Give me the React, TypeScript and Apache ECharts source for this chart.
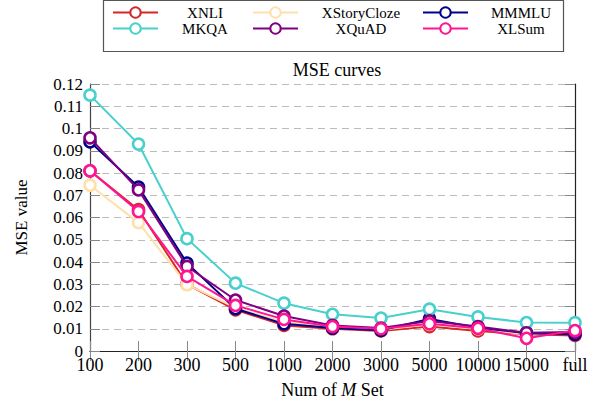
import React, { useEffect, useRef } from "react";
import * as echarts from "echarts";

const categories = ["100", "200", "300", "500", "1000", "2000", "3000", "5000", "10000", "15000", "full"];

const xnli = [0.081, 0.0635, 0.030, 0.0185, 0.0115, 0.010, 0.009, 0.011, 0.009, 0.0075, 0.007];
const xstorycloze = [0.0745, 0.0577, 0.0298, 0.0195, 0.013, 0.011, 0.0095, 0.012, 0.010, 0.0075, 0.0085];
const mmmlu = [0.094, 0.0737, 0.0395, 0.019, 0.0122, 0.0103, 0.0093, 0.0144, 0.0105, 0.008, 0.0075];
const mkqa = [0.115, 0.093, 0.0505, 0.0305, 0.0215, 0.0165, 0.0148, 0.0188, 0.0153, 0.0128, 0.0127];
const xquad = [0.0958, 0.0724, 0.038, 0.0229, 0.0157, 0.0115, 0.0103, 0.0135, 0.011, 0.0082, 0.0085];
const xlsum = [0.081, 0.0627, 0.0335, 0.0205, 0.0142, 0.011, 0.010, 0.0122, 0.0102, 0.0057, 0.0092];

const seriesNames = ["XNLI", "XStoryCloze", "MMMLU", "MKQA", "XQuAD", "XLSum"];
const seriesData = [xnli, xstorycloze, mmmlu, mkqa, xquad, xlsum];
const seriesColors = ["#d62728", "#ffe0aa", "#00008b", "#48d1cc", "#800080", "#ff1493"];

const legendColumns = [
  ["XNLI", "MKQA"],
  ["XStoryCloze", "XQuAD"],
  ["MMMLU", "XLSum"],
];

const FONT = "'Liberation Serif', 'Times New Roman', serif";

export default function App() {
  const ref = useRef<HTMLDivElement>(null);
  useEffect(() => {
    if (!ref.current) return;
    const chart = echarts.init(ref.current, null, { renderer: "svg" });
    const colLeft = [112, 252, 422];
    const colTextW = [84, 116, 96];
    const legends = legendColumns.map((names, i) => ({
      data: names,
      orient: "vertical",
      left: colLeft[i],
      top: 5,
      padding: 0,
      itemWidth: 45,
      itemHeight: 13,
      itemGap: 1,
      selectedMode: false,
      formatter: "{a|{name}}",
      textStyle: {
        fontFamily: FONT,
        fontSize: 15,
        color: "#000",
        rich: {
          a: { width: colTextW[i], align: "center", fontFamily: FONT, fontSize: 15, lineHeight: 20, color: "#000" },
        },
      },
    }));
    const option: any = {
      animation: false,
      backgroundColor: "#fff",
      title: {
        text: "MSE curves",
        left: 332,
        textAlign: "center",
        top: 56,
        textStyle: { fontFamily: FONT, fontSize: 18, fontWeight: "normal", color: "#000" },
      },
      legend: legends,
      graphic: [
        {
          type: "rect",
          shape: { x: 103.5, y: 0.5, width: 460, height: 51 },
          style: { fill: "none", stroke: "#555", lineWidth: 1.2 },
          silent: true,
        },
      ],
      grid: { left: 90, right: 24, top: 84, bottom: 54, containLabel: false },
      xAxis: [
        {
          type: "category",
          data: categories,
          boundaryGap: false,
          position: "bottom",
          name: "Num of {i|M} Set",
          nameLocation: "middle",
          nameGap: 30,
          nameTextStyle: {
            fontFamily: FONT,
            fontSize: 18,
            color: "#000",
            rich: { i: { fontStyle: "italic", fontFamily: FONT, fontSize: 18, color: "#000" } },
          },
          axisLine: { show: true, lineStyle: { color: "#444", width: 1.2 } },
          axisTick: { show: true, inside: true, length: 10, alignWithLabel: true, interval: 0, lineStyle: { color: "#888" } },
          axisLabel: { interval: 0, margin: 5, fontFamily: FONT, fontSize: 18, color: "#000" },
          splitLine: { show: false },
        },
        {
          type: "category",
          data: categories,
          boundaryGap: false,
          position: "top",
          axisLine: { show: true, lineStyle: { color: "#222", width: 1.2 } },
          axisTick: { show: true, inside: true, length: 10, interval: 0, lineStyle: { color: "#888" } },
          axisLabel: { show: false },
          splitLine: { show: false },
        },
      ],
      yAxis: [
        {
          type: "value",
          min: 0,
          max: 0.12,
          interval: 0.01,
          position: "left",
          name: "MSE value",
          nameLocation: "middle",
          nameGap: 60,
          nameTextStyle: { fontFamily: FONT, fontSize: 17, color: "#000" },
          axisLine: { show: true, lineStyle: { color: "#444", width: 1.2 } },
          axisTick: { show: true, inside: true, length: 10, lineStyle: { color: "#888" } },
          axisLabel: {
            margin: 7,
            fontFamily: FONT,
            fontSize: 17,
            color: "#000",
            formatter: (v: number) => String(parseFloat(v.toFixed(2))),
          },
          splitLine: { show: true, lineStyle: { color: "#bbb", type: [7, 5], width: 1 } },
        },
        {
          type: "value",
          min: 0,
          max: 0.12,
          interval: 0.01,
          position: "right",
          axisLine: { show: true, lineStyle: { color: "#222", width: 1.2 } },
          axisTick: { show: true, inside: true, length: 10, lineStyle: { color: "#888" } },
          axisLabel: { show: false },
          splitLine: { show: false },
        },
      ],
      series: seriesNames.map((name, i) => ({
        name,
        type: "line",
        data: seriesData[i],
        xAxisIndex: 0,
        yAxisIndex: 0,
        symbol: "circle",
        symbolSize: 11,
        color: seriesColors[i],
        lineStyle: { color: seriesColors[i], width: 2 },
        itemStyle: { color: "#fff", borderColor: seriesColors[i], borderWidth: 2.6 },
        z: 2 + i,
      })),
    };
    chart.setOption(option);
    return () => chart.dispose();
  }, []);
  return (
    <div
      ref={ref}
      style={{ position: "fixed", left: 0, top: 0, width: 599, height: 405 }}
    />
  );
}
